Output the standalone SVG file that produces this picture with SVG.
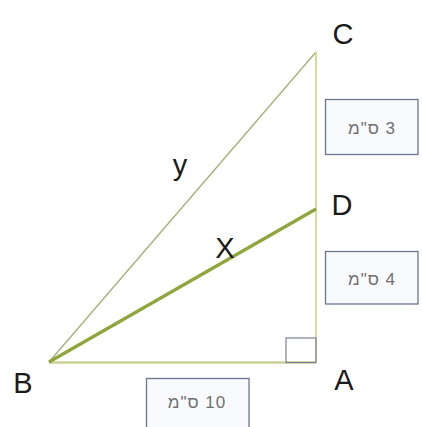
<svg xmlns="http://www.w3.org/2000/svg" width="422" height="427" viewBox="0 0 422 427">
<style>
.lbl{font-family:"Liberation Sans",Arial,sans-serif;font-size:29px;fill:#1a1a1a;text-anchor:middle}
.box{fill:#f9fafd;stroke:#6b7590;stroke-width:1.3}
.btxt{font-family:"Liberation Sans",Arial,sans-serif;font-size:17px;letter-spacing:1px;fill:#707070;text-anchor:middle;direction:rtl;unicode-bidi:embed}
</style>
<rect width="422" height="427" fill="#ffffff"/>
<g id="connectors">
<line x1="49" y1="362" x2="316" y2="52" stroke="#a4ae78" stroke-width="1.3"/>
<line x1="316" y1="52" x2="316" y2="362" stroke="#d8dc98" stroke-width="2"/>
<line x1="49" y1="362.5" x2="316" y2="362.5" stroke="#cdd196" stroke-width="2.5"/>
<line x1="49" y1="362" x2="316" y2="209" stroke="#8fa63c" stroke-width="3.2"/>
<rect x="286" y="338" width="30" height="24.5" fill="none" stroke="#7c8294" stroke-width="1.2"/>
</g>
<g id="node-C"><text class="lbl" x="343" y="44">C</text></g>
<g id="node-D"><text class="lbl" x="342" y="215">D</text></g>
<g id="node-A"><text class="lbl" x="344" y="390">A</text></g>
<g id="node-B"><text class="lbl" x="23" y="393">B</text></g>
<g id="label-y"><text class="lbl" x="180" y="175">y</text></g>
<g id="label-X"><text class="lbl" x="225" y="258">X</text></g>
<g id="box-3"><rect class="box" x="325.5" y="99.5" width="92.5" height="55"/><text class="btxt" x="372" y="134">3 ס"מ</text></g>
<g id="box-4"><rect class="box" x="325.5" y="251.5" width="92.5" height="52.5"/><text class="btxt" x="372" y="285">4 ס"מ</text></g>
<g id="box-10"><rect class="box" x="146.5" y="378.5" width="102.5" height="55"/><text class="btxt" x="197" y="408">10 ס"מ</text></g>
</svg>
